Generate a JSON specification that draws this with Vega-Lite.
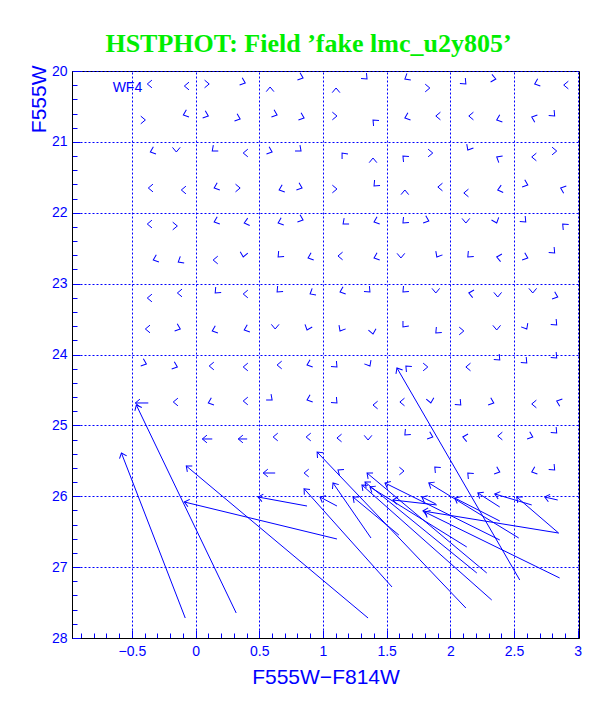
{
  "$schema": "https://vega.github.io/schema/vega-lite/v6.json",
  "autosize": {"type": "none"},
  "padding": {"left": 72, "top": 71, "right": 33, "bottom": 71},
  "width": 507,
  "height": 567,
  "background": "white",
  "config": {"view": {"stroke": "black", "strokeWidth": 1}, "font": "Liberation Sans"},
  "title": {"text": "HSTPHOT: Field ’fake lmc_u2y805’", "font": "Liberation Serif", "fontSize": 26, "fontWeight": "bold", "color": "#00ee00", "anchor": "middle", "frame": "group", "dx": -17, "offset": 7},
  "datasets": {
    "arrows": [
      {"xo": -0.379, "yo": 20.183, "d": 180}, {"xo": -0.088, "yo": 20.212, "d": 180}, {"xo": 0.107, "yo": 20.183, "d": 0}, {"xo": 0.390, "yo": 20.169, "d": 20}, {"xo": 0.585, "yo": 20.226, "d": 270}, {"xo": 0.844, "yo": 20.099, "d": 20}, {"xo": 1.103, "yo": 20.240, "d": 270}, {"xo": 1.346, "yo": 20.113, "d": 45}, {"xo": 1.643, "yo": 20.113, "d": 150}, {"xo": 1.839, "yo": 20.240, "d": 0}, {"xo": 2.122, "yo": 20.183, "d": 45}, {"xo": 2.357, "yo": 20.113, "d": 10}, {"xo": 2.662, "yo": 20.183, "d": 160}, {"xo": 2.890, "yo": 20.198, "d": 180},
      {"xo": -0.394, "yo": 20.691, "d": 0}, {"xo": -0.096, "yo": 20.621, "d": 160}, {"xo": 0.100, "yo": 20.635, "d": 20}, {"xo": 0.350, "yo": 20.677, "d": 20}, {"xo": 0.640, "yo": 20.621, "d": 20}, {"xo": 0.852, "yo": 20.663, "d": 20}, {"xo": 1.110, "yo": 20.635, "d": 0}, {"xo": 1.393, "yo": 20.691, "d": 225}, {"xo": 1.643, "yo": 20.663, "d": 160}, {"xo": 1.886, "yo": 20.635, "d": 180}, {"xo": 2.145, "yo": 20.635, "d": 180}, {"xo": 2.364, "yo": 20.691, "d": 160}, {"xo": 2.639, "yo": 20.649, "d": 200}, {"xo": 2.819, "yo": 20.635, "d": 45},
      {"xo": -0.355, "yo": 21.143, "d": 160}, {"xo": -0.151, "yo": 21.143, "d": 90}, {"xo": 0.131, "yo": 21.129, "d": 140}, {"xo": 0.374, "yo": 21.157, "d": 180}, {"xo": 0.601, "yo": 21.143, "d": 20}, {"xo": 0.828, "yo": 21.129, "d": 40}, {"xo": 1.150, "yo": 21.157, "d": 230}, {"xo": 1.393, "yo": 21.228, "d": 270}, {"xo": 1.628, "yo": 21.199, "d": 225}, {"xo": 1.862, "yo": 21.157, "d": 0}, {"xo": 2.137, "yo": 21.115, "d": 120}, {"xo": 2.364, "yo": 21.213, "d": 210}, {"xo": 2.639, "yo": 21.213, "d": 180}, {"xo": 2.835, "yo": 21.129, "d": 0},
      {"xo": -0.371, "yo": 21.651, "d": 180}, {"xo": -0.112, "yo": 21.679, "d": 180}, {"xo": 0.146, "yo": 21.651, "d": 160}, {"xo": 0.350, "yo": 21.651, "d": 0}, {"xo": 0.656, "yo": 21.679, "d": 160}, {"xo": 0.836, "yo": 21.651, "d": 20}, {"xo": 1.110, "yo": 21.665, "d": 0}, {"xo": 1.401, "yo": 21.623, "d": 135}, {"xo": 1.643, "yo": 21.679, "d": 270}, {"xo": 1.902, "yo": 21.637, "d": 180}, {"xo": 2.106, "yo": 21.721, "d": 180}, {"xo": 2.372, "yo": 21.679, "d": 165}, {"xo": 2.608, "yo": 21.608, "d": 20}, {"xo": 2.866, "yo": 21.651, "d": 200},
      {"xo": -0.379, "yo": 22.159, "d": 180}, {"xo": -0.143, "yo": 22.187, "d": 0}, {"xo": 0.146, "yo": 22.131, "d": 160}, {"xo": 0.382, "yo": 22.145, "d": 165}, {"xo": 0.648, "yo": 22.145, "d": 160}, {"xo": 0.844, "yo": 22.102, "d": 20}, {"xo": 1.158, "yo": 22.159, "d": 140}, {"xo": 1.401, "yo": 22.131, "d": 160}, {"xo": 1.628, "yo": 22.145, "d": 135}, {"xo": 1.831, "yo": 22.116, "d": 20}, {"xo": 2.122, "yo": 22.145, "d": 90}, {"xo": 2.364, "yo": 22.145, "d": 70}, {"xo": 2.592, "yo": 22.131, "d": 45}, {"xo": 2.882, "yo": 22.159, "d": 225},
      {"xo": -0.332, "yo": 22.667, "d": 160}, {"xo": -0.136, "yo": 22.695, "d": 150}, {"xo": 0.138, "yo": 22.667, "d": 180}, {"xo": 0.374, "yo": 22.624, "d": 100}, {"xo": 0.648, "yo": 22.624, "d": 135}, {"xo": 0.883, "yo": 22.638, "d": 160}, {"xo": 1.118, "yo": 22.610, "d": 180}, {"xo": 1.401, "yo": 22.638, "d": 160}, {"xo": 1.612, "yo": 22.638, "d": 90}, {"xo": 1.894, "yo": 22.624, "d": 120}, {"xo": 2.137, "yo": 22.624, "d": 135}, {"xo": 2.364, "yo": 22.624, "d": 190}, {"xo": 2.608, "yo": 22.638, "d": 20}, {"xo": 2.819, "yo": 22.568, "d": 45},
      {"xo": -0.379, "yo": 23.203, "d": 180}, {"xo": -0.143, "yo": 23.132, "d": 180}, {"xo": 0.154, "yo": 23.132, "d": 135}, {"xo": 0.374, "yo": 23.146, "d": 180}, {"xo": 0.640, "yo": 23.118, "d": 135}, {"xo": 0.899, "yo": 23.146, "d": 150}, {"xo": 1.134, "yo": 23.118, "d": 160}, {"xo": 1.369, "yo": 23.118, "d": 45}, {"xo": 1.628, "yo": 23.118, "d": 135}, {"xo": 1.886, "yo": 23.132, "d": 90}, {"xo": 2.145, "yo": 23.132, "d": 190}, {"xo": 2.372, "yo": 23.189, "d": 90}, {"xo": 2.647, "yo": 23.132, "d": 90}, {"xo": 2.843, "yo": 23.189, "d": 20},
      {"xo": -0.394, "yo": 23.640, "d": 180}, {"xo": -0.120, "yo": 23.640, "d": 20}, {"xo": 0.131, "yo": 23.668, "d": 160}, {"xo": 0.382, "yo": 23.654, "d": 160}, {"xo": 0.625, "yo": 23.640, "d": 90}, {"xo": 0.875, "yo": 23.654, "d": 110}, {"xo": 1.134, "yo": 23.668, "d": 120}, {"xo": 1.393, "yo": 23.711, "d": 80}, {"xo": 1.628, "yo": 23.612, "d": 130}, {"xo": 1.886, "yo": 23.697, "d": 135}, {"xo": 2.106, "yo": 23.668, "d": 0}, {"xo": 2.364, "yo": 23.654, "d": 90}, {"xo": 2.600, "yo": 23.640, "d": 60}, {"xo": 2.835, "yo": 23.584, "d": 45},
      {"xo": -0.386, "yo": 24.134, "d": 20}, {"xo": -0.143, "yo": 24.176, "d": 20}, {"xo": 0.107, "yo": 24.162, "d": 180}, {"xo": 0.374, "yo": 24.176, "d": 180}, {"xo": 0.640, "yo": 24.148, "d": 180}, {"xo": 0.875, "yo": 24.148, "d": 160}, {"xo": 1.110, "yo": 24.176, "d": 45}, {"xo": 1.369, "yo": 24.162, "d": 60}, {"xo": 1.651, "yo": 24.162, "d": 225}, {"xo": 1.823, "yo": 24.176, "d": 0}, {"xo": 2.122, "yo": 24.176, "d": 180}, {"xo": 2.388, "yo": 24.078, "d": 45}, {"xo": 2.600, "yo": 24.120, "d": 45}, {"xo": 2.835, "yo": 24.049, "d": 45},
      {"xo": -0.175, "yo": 24.670, "d": 180}, {"xo": 0.100, "yo": 24.684, "d": 160}, {"xo": 0.374, "yo": 24.656, "d": 180}, {"xo": 0.601, "yo": 24.642, "d": 40}, {"xo": 0.875, "yo": 24.642, "d": 160}, {"xo": 1.110, "yo": 24.684, "d": 45}, {"xo": 1.393, "yo": 24.713, "d": 180}, {"xo": 1.604, "yo": 24.670, "d": 180}, {"xo": 1.847, "yo": 24.684, "d": 80}, {"xo": 2.082, "yo": 24.713, "d": 45}, {"xo": 2.341, "yo": 24.684, "d": 20}, {"xo": 2.639, "yo": 24.698, "d": 180}, {"xo": 2.835, "yo": 24.656, "d": 200},
      {"xo": 0.609, "yo": 25.164, "d": 180}, {"xo": 0.868, "yo": 25.164, "d": 180}, {"xo": 1.110, "yo": 25.178, "d": 180}, {"xo": 1.354, "yo": 25.206, "d": 90}, {"xo": 1.643, "yo": 25.136, "d": 135}, {"xo": 1.862, "yo": 25.164, "d": 20}, {"xo": 2.098, "yo": 25.164, "d": 190}, {"xo": 2.372, "yo": 25.150, "d": 180}, {"xo": 2.647, "yo": 25.164, "d": 20}, {"xo": 2.835, "yo": 25.108, "d": 45},
      {"xo": 0.852, "yo": 25.672, "d": 180}, {"xo": 1.118, "yo": 25.630, "d": 215}, {"xo": 1.636, "yo": 25.644, "d": 0}, {"xo": 1.878, "yo": 25.587, "d": 225}, {"xo": 2.137, "yo": 25.672, "d": 225}, {"xo": 2.388, "yo": 25.658, "d": 20}, {"xo": 2.639, "yo": 25.658, "d": 160}, {"xo": 2.819, "yo": 25.630, "d": 45},
      {"xo": -0.473, "yo": 24.684, "xi": -0.371, "yi": 24.684, "d": 180},
      {"xo": 0.053, "yo": 25.192, "xi": 0.131, "yi": 25.192, "d": 180},
      {"xo": 0.335, "yo": 25.192, "xi": 0.405, "yi": 25.192, "d": 180},
      {"xo": 0.531, "yo": 25.672, "xi": 0.625, "yi": 25.672, "d": 180},
      {"xo": -0.582, "yo": 25.390, "xi": -0.081, "yi": 27.718, "d": 248.8},
      {"xo": -0.465, "yo": 24.713, "xi": 0.319, "yi": 27.647, "d": 244.3},
      {"xo": -0.073, "yo": 25.573, "xi": 1.354, "yi": 27.718, "d": 219.9},
      {"xo": -0.088, "yo": 26.081, "xi": 1.110, "yi": 26.603, "d": 193.6},
      {"xo": 0.491, "yo": 26.011, "xi": 0.875, "yi": 26.138, "d": 190.4},
      {"xo": 0.954, "yo": 25.376, "xi": 2.122, "yi": 27.577, "d": 226.3},
      {"xo": 0.852, "yo": 25.894, "xi": 1.542, "yi": 27.280, "d": 228.1},
      {"xo": 0.977, "yo": 26.011, "xi": 1.110, "yi": 26.138, "d": 208},
      {"xo": 1.079, "yo": 25.813, "xi": 1.377, "yi": 26.589, "d": 235.4},
      {"xo": 1.236, "yo": 26.011, "xi": 1.596, "yi": 26.547, "d": 219.6},
      {"xo": 1.306, "yo": 25.841, "xi": 2.325, "yi": 27.464, "d": 221.5},
      {"xo": 1.346, "yo": 25.672, "xi": 2.286, "yi": 27.083, "d": 219.8},
      {"xo": 1.330, "yo": 25.799, "xi": 2.208, "yi": 27.083, "d": 219.1},
      {"xo": 1.369, "yo": 25.869, "xi": 2.129, "yi": 26.716, "d": 211.7},
      {"xo": 1.831, "yo": 25.813, "xi": 2.537, "yi": 26.589, "d": 211.4},
      {"xo": 1.581, "yo": 24.190, "xi": 2.545, "yi": 27.182, "d": 239.9},
      {"xo": 1.549, "yo": 26.053, "xi": 1.894, "yi": 26.123, "d": 186.5},
      {"xo": 1.799, "yo": 26.222, "xi": 2.858, "yi": 27.153, "d": 206.1},
      {"xo": 2.216, "yo": 25.954, "xi": 2.388, "yi": 26.152, "d": 212.5},
      {"xo": 2.349, "yo": 25.968, "xi": 2.639, "yi": 26.123, "d": 196.6},
      {"xo": 2.521, "yo": 26.011, "xi": 2.850, "yi": 26.519, "d": 220.6},
      {"xo": 2.741, "yo": 26.011, "xi": 2.843, "yi": 26.053, "d": 193},
      {"xo": 1.487, "yo": 25.813, "xi": 2.388, "yi": 26.617, "d": 206.4},
      {"xo": 2.035, "yo": 26.025, "xi": 2.388, "yi": 26.349, "d": 207},
      {"xo": 1.785, "yo": 26.208, "xi": 2.850, "yi": 26.519, "d": 189.2},
      {"xo": 1.777, "yo": 26.011, "xi": 1.886, "yi": 26.109, "d": 206.6}
    ],
    "labels": [{"xo": -0.535, "yo": 20.24, "text": "WF4"}]
  },
  "encoding": {
    "x": {
      "field": "xo", "type": "quantitative",
      "scale": {"domain": [-0.97, 3.01], "nice": false, "zero": false},
      "axis": {
        "title": "F555W−F814W",
        "values": [-0.9, -0.8, -0.7, -0.6, -0.5, -0.4, -0.3, -0.2, -0.1, 0, 0.1, 0.2, 0.3, 0.4, 0.5, 0.6, 0.7, 0.8, 0.9, 1, 1.1, 1.2, 1.3, 1.4, 1.5, 1.6, 1.7, 1.8, 1.9, 2, 2.1, 2.2, 2.3, 2.4, 2.5, 2.6, 2.7, 2.8, 2.9, 3],
        "labelExpr": "abs(datum.value*2-round(datum.value*2))<0.001 ? format(datum.value,'~g') : ''",
        "grid": true,
        "gridColor": "#0000ff",
        "gridDash": [2, 2],
        "gridOpacity": {"condition": {"test": "abs(datum.value*2-round(datum.value*2))<0.001", "value": 1}, "value": 0},
        "tickColor": "#0000ff",
        "tickSize": {"condition": {"test": "abs(datum.value*2-round(datum.value*2))<0.001", "value": -8}, "value": -5},
        "domainColor": "black",
        "labelColor": "#0000ff",
        "labelFontSize": 14,
        "labelPadding": 14,
        "labelFlush": false,
        "labelOverlap": false,
        "titleColor": "#0000ff",
        "titleFontSize": 21,
        "titleFontWeight": "normal",
        "titleBaseline": "alphabetic",
        "titleY": 45
      }
    },
    "y": {
      "field": "yo", "type": "quantitative",
      "scale": {"domain": [20, 28], "reverse": true, "nice": false, "zero": false},
      "axis": {
        "title": "F555W",
        "values": [20, 20.2, 20.4, 20.6, 20.8, 21, 21.2, 21.4, 21.6, 21.8, 22, 22.2, 22.4, 22.6, 22.8, 23, 23.2, 23.4, 23.6, 23.8, 24, 24.2, 24.4, 24.6, 24.8, 25, 25.2, 25.4, 25.6, 25.8, 26, 26.2, 26.4, 26.6, 26.8, 27, 27.2, 27.4, 27.6, 27.8, 28],
        "labelExpr": "abs(datum.value-round(datum.value))<0.001 ? format(datum.value,'d') : ''",
        "grid": true,
        "gridColor": "#0000ff",
        "gridDash": [2, 2],
        "gridOpacity": {"condition": {"test": "abs(datum.value-round(datum.value))<0.001", "value": 1}, "value": 0},
        "tickColor": "#0000ff",
        "tickSize": {"condition": {"test": "abs(datum.value-round(datum.value))<0.001", "value": -8}, "value": -5},
        "domainColor": "black",
        "labelColor": "#0000ff",
        "labelFontSize": 14,
        "labelPadding": 13,
        "labelFlush": false,
        "labelOverlap": false,
        "titleColor": "#0000ff",
        "titleFontSize": 21,
        "titleFontWeight": "normal",
        "titleAngle": -90,
        "titleAlign": "right",
        "titleBaseline": "alphabetic",
        "titleX": -27,
        "titleY": -6
      }
    }
  },
  "layer": [
    {
      "data": {"name": "arrows"},
      "transform": [{"filter": "isValid(datum.xi)"}],
      "mark": {"type": "rule", "color": "#0000ff", "strokeWidth": 1},
      "encoding": {"x2": {"field": "xi"}, "y2": {"field": "yi"}}
    },
    {
      "data": {"name": "arrows"},
      "mark": {"type": "point", "shape": "M-0.77,-0.64L0,0L-0.77,0.64", "filled": false, "size": 144, "color": "#0000ff", "strokeWidth": 1, "opacity": 1},
      "encoding": {"angle": {"field": "d", "type": "quantitative", "scale": null}}
    },
    {
      "data": {"name": "labels"},
      "mark": {"type": "text", "color": "#0000ff", "fontSize": 14, "align": "center", "baseline": "middle", "font": "Liberation Sans"},
      "encoding": {"text": {"field": "text"}}
    }
  ]
}
